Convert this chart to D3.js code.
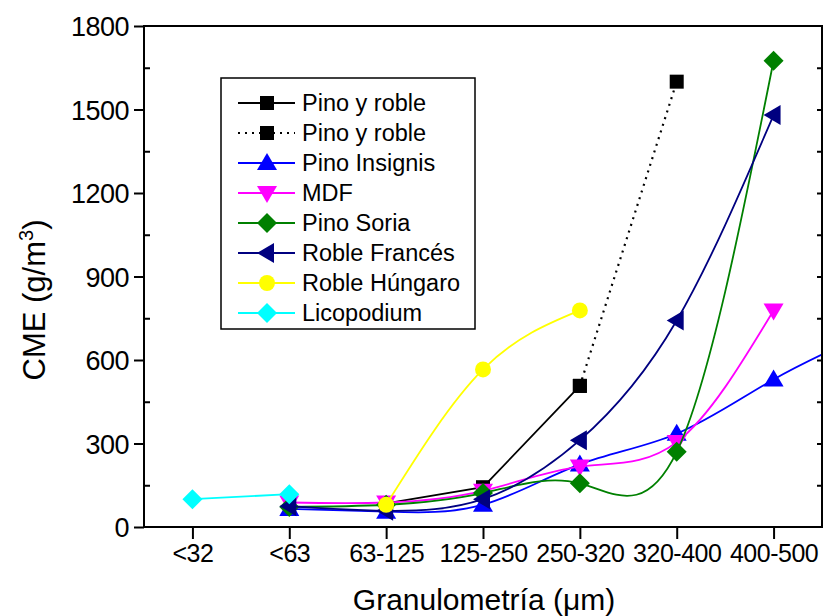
<!DOCTYPE html>
<html>
<head>
<meta charset="utf-8">
<script src="https://cdn.jsdelivr.net/npm/d3@7"></script>
<style>
  body { margin: 0; background: #fff; }
  text { font-family: Arial, "Liberation Sans", sans-serif; fill: #000; }
</style>
</head>
<body>
<svg id="chart" width="827" height="616"></svg>
<script>
// categories on x
const categories = ["<32", "<63", "63-125", "125-250", "250-320", "320-400", "400-500"];

// CME values (g/m3) per category index, null = no point
// Pino Insignis has one more point past 400-500, only its line shows (clipped)
const pinoRoble       = [null, null, 85, 143, 507, null, null];
const pinoRobleDot    = [null, null, null, null, 507, 1600, null];
const pinoInsignis    = [null, 65, 55, 80, 225, 335, 530, 700];
const mdf             = [null, 88, 88, 130, 217, 305, 778];
const pinoSoria       = [null, 72, 80, 122, 157, 270, 1675];
const robleFrances    = [null, 75, 58, 100, 312, 742, 1480];
const robleHungaro    = [null, null, 80, 566, 778];
const licopodium      = [100, 118];

const yTicks = [0, 300, 600, 900, 1200, 1500, 1800];

const series = [
    {name: "Pino y roble",  values: pinoRoble,    color: "#000000", marker: "square",  dash: null,  curve: d3.curveLinear},
    {name: "Pino y roble",  values: pinoRobleDot, color: "#000000", marker: "square",  dash: "2,5", curve: d3.curveLinear},
    {name: "Pino Insignis", values: pinoInsignis, color: "#0000ff", marker: "up",      dash: null,  curve: d3.curveNatural},
    {name: "MDF",           values: mdf,          color: "#ff00ff", marker: "down",    dash: null,  curve: d3.curveNatural},
    {name: "Pino Soria",    values: pinoSoria,    color: "#008000", marker: "diamond", dash: null,  curve: d3.curveNatural},
    {name: "Roble Francés", values: robleFrances, color: "#000080", marker: "left",    dash: null,  curve: d3.curveNatural},
    {name: "Roble Húngaro", values: robleHungaro, color: "#ffff00", marker: "circle",  dash: null,  curve: d3.curveNatural},
    {name: "Licopodium",    values: licopodium,   color: "#00ffff", marker: "diamond", dash: null,  curve: d3.curveLinear}
];

const plotL = 144, plotR = 822, plotT = 26, plotB = 527;

const svg = d3.select("#chart");

const x = d3.scaleLinear().domain([-0.5, 6.5]).range([plotL, plotR]);
const y = d3.scaleLinear().domain([0, 1800]).range([plotB, plotT]);

// marker path centred on 0,0
function markerPath(type) {
    switch (type) {
        case "square":  return "M-7,-7H7V7H-7Z";
        case "up":      return "M0,-10L10,7H-10Z";
        case "down":    return "M0,10L10,-7H-10Z";
        case "left":    return "M-10,0L7,-10V10Z";
        case "diamond": return "M0,-10L10,0L0,10L-10,0Z";
        default:        return d3.symbol(d3.symbolCircle, 200)();
    }
}

svg.append("clipPath").attr("id", "plot")
    .append("rect")
    .attr("x", plotL).attr("y", plotT)
    .attr("width", plotR - plotL).attr("height", plotB - plotT);

// lines + markers, in legend order so later series sit on top
series.forEach(s => {
    const pts = s.values.map((v, i) => [i, v]).filter(d => d[1] != null);
    const line = d3.line()
        .x(d => x(d[0]))
        .y(d => y(d[1]))
        .curve(s.curve);

    svg.append("path")
        .attr("d", line(pts))
        .attr("clip-path", "url(#plot)")
        .attr("fill", "none")
        .attr("stroke", s.color)
        .attr("stroke-width", s.dash ? 2.2 : 1.8)
        .attr("stroke-dasharray", s.dash);

    svg.selectAll(null)
        .data(pts.filter(d => d[0] < categories.length))
        .enter()
        .append("path")
        .attr("d", markerPath(s.marker))
        .attr("transform", d => `translate(${x(d[0])},${y(d[1])})`)
        .attr("fill", s.color);
});

// frame
svg.append("rect")
    .attr("x", plotL).attr("y", plotT)
    .attr("width", plotR - plotL).attr("height", plotB - plotT)
    .attr("fill", "none")
    .attr("stroke", "#000")
    .attr("stroke-width", 2);

// y axis, major ticks outside
const yAxis = svg.append("g")
    .attr("transform", `translate(${plotL},0)`)
    .call(d3.axisLeft(y).tickValues(yTicks).tickFormat(d3.format("d"))
        .tickSize(10).tickSizeOuter(0).tickPadding(5));
yAxis.select(".domain").remove();
yAxis.selectAll("line").attr("stroke-width", 2);
yAxis.selectAll("text")
    .attr("font-size", 27)
    .attr("font-family", "Arial, 'Liberation Sans', sans-serif")
    .attr("letter-spacing", -0.5)
    .attr("dy", "0.36em");

// y minor ticks inside
const yMinor = d3.range(150, 1800, 300);
svg.append("g")
    .attr("transform", `translate(${plotL},0)`)
    .call(d3.axisLeft(y).tickValues(yMinor).tickSize(-6).tickFormat(""))
    .call(g => g.select(".domain").remove())
    .selectAll("line").attr("stroke-width", 2);

// right side ticks
svg.append("g")
    .attr("transform", `translate(${plotR},0)`)
    .call(d3.axisRight(y).tickValues(d3.range(150, 1800, 150)).tickSize(-5).tickFormat(""))
    .call(g => g.select(".domain").remove())
    .selectAll("line").attr("stroke-width", 2);

// x axis
const xAxis = svg.append("g")
    .attr("transform", `translate(0,${plotB})`)
    .call(d3.axisBottom(x)
        .tickValues(d3.range(categories.length))
        .tickFormat(i => categories[i])
        .tickSize(12).tickSizeOuter(0).tickPadding(5));
xAxis.select(".domain").remove();
xAxis.selectAll("line").attr("stroke-width", 2);
xAxis.selectAll("text")
    .attr("font-size", 25)
    .attr("letter-spacing", -0.5)
    .attr("font-family", "Arial, 'Liberation Sans', sans-serif");

// axis titles
const yTitle = svg.append("text")
    .attr("transform", "translate(45,300) rotate(-90)")
    .attr("text-anchor", "middle")
    .attr("font-size", 31);
yTitle.append("tspan").text("CME (g/m");
yTitle.append("tspan").attr("font-size", 20).attr("dy", -12).text("3");
yTitle.append("tspan").attr("dy", 12).text(")");

svg.append("text")
    .attr("x", 484).attr("y", 610)
    .attr("text-anchor", "middle")
    .attr("font-size", 30)
    .text("Granulometría (μm)");

// legend
const legend = svg.append("g");
legend.append("rect")
    .attr("x", 221).attr("y", 78)
    .attr("width", 254).attr("height", 251)
    .attr("fill", "#fff")
    .attr("stroke", "#000")
    .attr("stroke-width", 1.5);

series.forEach((s, k) => {
    const ly = 103 + k * 30;
    legend.append("line")
        .attr("x1", 238).attr("x2", 295)
        .attr("y1", ly).attr("y2", ly)
        .attr("stroke", s.color)
        .attr("stroke-width", s.dash ? 2.2 : 1.8)
        .attr("stroke-dasharray", s.dash);
    legend.append("path")
        .attr("d", markerPath(s.marker))
        .attr("transform", `translate(267,${ly})`)
        .attr("fill", s.color);
    legend.append("text")
        .attr("x", 302).attr("y", ly)
        .attr("dy", "0.36em")
        .attr("font-size", 23.5)
        .text(s.name);
});
</script>
</body>
</html>
